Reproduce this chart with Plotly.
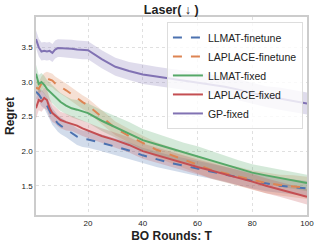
import numpy as np
import plotly.graph_objects as go

T = [1, 2, 3, 4, 5, 6, 7, 8, 9, 10, 12, 14, 16, 18, 20, 25, 30, 35, 40, 45, 50,
     55, 60, 65, 70, 75, 80, 85, 90, 95, 100]

llmat_ft = [2.86, 2.82, 2.76, 2.73, 2.66, 2.58, 2.50, 2.45, 2.40, 2.37, 2.32, 2.27, 2.21, 2.18, 2.17,
            2.12, 2.07, 2.01, 1.94, 1.88, 1.83, 1.79, 1.75, 1.71, 1.67, 1.62, 1.57, 1.53, 1.50, 1.48, 1.46]
llmat_ft_hw = [0.10, 0.10, 0.11, 0.11, 0.12, 0.12, 0.12, 0.12, 0.12, 0.12, 0.12, 0.12, 0.12, 0.12, 0.12,
               0.12, 0.12, 0.12, 0.11, 0.11, 0.11, 0.11, 0.11, 0.11, 0.11, 0.11, 0.11, 0.11, 0.11, 0.11, 0.11]

laplace_ft = [2.92, 2.90, 2.98, 3.03, 3.05, 3.04, 3.02, 2.98, 2.95, 2.93, 2.88, 2.82, 2.76, 2.71, 2.66,
              2.49, 2.33, 2.22, 2.12, 2.02, 1.95, 1.88, 1.80, 1.73, 1.68, 1.63, 1.58, 1.54, 1.51, 1.49, 1.47]
laplace_ft_hw = [0.10, 0.10, 0.10, 0.10, 0.10, 0.10, 0.10, 0.10, 0.10, 0.10, 0.10, 0.10, 0.10, 0.10, 0.10,
                 0.10, 0.10, 0.10, 0.10, 0.11, 0.11, 0.12, 0.12, 0.13, 0.13, 0.14, 0.14, 0.15, 0.15, 0.16, 0.16]

llmat_fx = [3.12, 2.97, 3.00, 2.96, 2.90, 2.86, 2.83, 2.78, 2.74, 2.71, 2.66, 2.62, 2.60, 2.57, 2.55,
            2.44, 2.35, 2.26, 2.16, 2.10, 2.04, 1.98, 1.93, 1.87, 1.81, 1.75, 1.69, 1.65, 1.61, 1.57, 1.54]
llmat_fx_hw = [0.13, 0.13, 0.13, 0.13, 0.13, 0.13, 0.13, 0.13, 0.13, 0.13, 0.13, 0.13, 0.14, 0.14, 0.14,
               0.15, 0.16, 0.16, 0.16, 0.15, 0.15, 0.14, 0.14, 0.13, 0.13, 0.12, 0.12, 0.12, 0.12, 0.12, 0.12]

laplace_fx = [2.62, 2.74, 2.72, 2.77, 2.74, 2.62, 2.55, 2.52, 2.48, 2.45, 2.42, 2.40, 2.37, 2.33, 2.30,
              2.22, 2.16, 2.09, 2.00, 1.94, 1.89, 1.83, 1.77, 1.72, 1.67, 1.62, 1.56, 1.50, 1.45, 1.40, 1.34]
laplace_fx_hw = [0.15, 0.15, 0.15, 0.15, 0.15, 0.14, 0.13, 0.12, 0.12, 0.12, 0.12, 0.11, 0.11, 0.11, 0.11,
                 0.11, 0.11, 0.11, 0.11, 0.11, 0.11, 0.11, 0.11, 0.11, 0.11, 0.11, 0.11, 0.11, 0.11, 0.11, 0.11]

gp_fx = [3.62, 3.50, 3.44, 3.45, 3.44, 3.45, 3.42, 3.47, 3.49, 3.49, 3.48, 3.48, 3.47, 3.46, 3.46,
         3.33, 3.22, 3.16, 3.11, 3.08, 3.05, 3.03, 3.00, 2.97, 2.93, 2.89, 2.84, 2.79, 2.76, 2.72, 2.69]
gp_fx_hw = [0.13, 0.13, 0.13, 0.13, 0.13, 0.13, 0.13, 0.13, 0.13, 0.13, 0.13, 0.13, 0.13, 0.13, 0.13,
            0.13, 0.13, 0.13, 0.14, 0.14, 0.14, 0.14, 0.14, 0.14, 0.15, 0.15, 0.15, 0.15, 0.16, 0.16, 0.16]

series = [
    ("LLMAT-finetune", llmat_ft, llmat_ft_hw, "#4C72B0", "dash"),
    ("LAPLACE-finetune", laplace_ft, laplace_ft_hw, "#DD8452", "dash"),
    ("LLMAT-fixed", llmat_fx, llmat_fx_hw, "#55A868", "solid"),
    ("LAPLACE-fixed", laplace_fx, laplace_fx_hw, "#C44E52", "solid"),
    ("GP-fixed", gp_fx, gp_fx_hw, "#8172B3", "solid"),
]


def rgba(h, a):
    h = h.lstrip("#")
    r, g, b = int(h[0:2], 16), int(h[2:4], 16), int(h[4:6], 16)
    return f"rgba({r},{g},{b},{a})"


fig = go.Figure()
for name, m, hw, col, dash in series:
    m = np.array(m)
    hw = np.array(hw)
    up = m + hw
    lo = m - hw
    fig.add_trace(go.Scatter(x=T + T[::-1], y=list(up) + list(lo[::-1]), fill="toself",
                             fillcolor=rgba(col, 0.25), line=dict(width=0), mode="lines",
                             showlegend=False, hoverinfo="skip"))
for name, m, hw, col, dash in series:
    fig.add_trace(go.Scatter(x=T, y=m, mode="lines", name=name,
                             line=dict(color=col, width=2, dash=dash)))

fig.update_layout(
    width=319, height=248,
    margin=dict(l=36, r=12, t=17, b=33),
    paper_bgcolor="white", plot_bgcolor="white",
    font=dict(family="Liberation Sans, Arial, sans-serif", color="#222222"),
    title=dict(text="<b>Laser( ↓ )</b>", x=0.537, xanchor="center", y=0.96, yanchor="middle",
               font=dict(size=12.5, color="#222222"), automargin=False),
    legend=dict(x=0.985, y=0.975, xanchor="right", yanchor="top",
                bgcolor="rgba(255,255,255,0.8)", bordercolor="#dddddd", borderwidth=1,
                font=dict(size=10.5, color="#222222"), itemwidth=30, tracegroupgap=0),
    showlegend=True,
)
fig.update_xaxes(range=[1, 100], tickvals=[20, 40, 60, 80, 100], automargin=False,
                 tickfont=dict(size=8), showgrid=True, gridcolor="#e0e0e0", griddash="dot",
                 showline=True, linecolor="#cccccc", linewidth=1.5, mirror=True, zeroline=False,
                 ticks="", title=dict(text="<b>BO Rounds: T</b>", font=dict(size=12), standoff=4))
fig.update_yaxes(range=[1.077, 3.94], tickvals=[1.5, 2.0, 2.5, 3.0, 3.5], automargin=False,
                 ticktext=["1.5", "2.0", "2.5", "3.0", "3.5"],
                 tickfont=dict(size=8), showgrid=True, gridcolor="#e0e0e0", griddash="dot",
                 showline=True, linecolor="#cccccc", linewidth=1.5, mirror=True, zeroline=False,
                 ticks="", title=dict(text="<b>Regret</b>", font=dict(size=12), standoff=4))

fig.write_html("out.html", config={"displayModeBar": False},
               post_script="document.body.style.margin='0';")
